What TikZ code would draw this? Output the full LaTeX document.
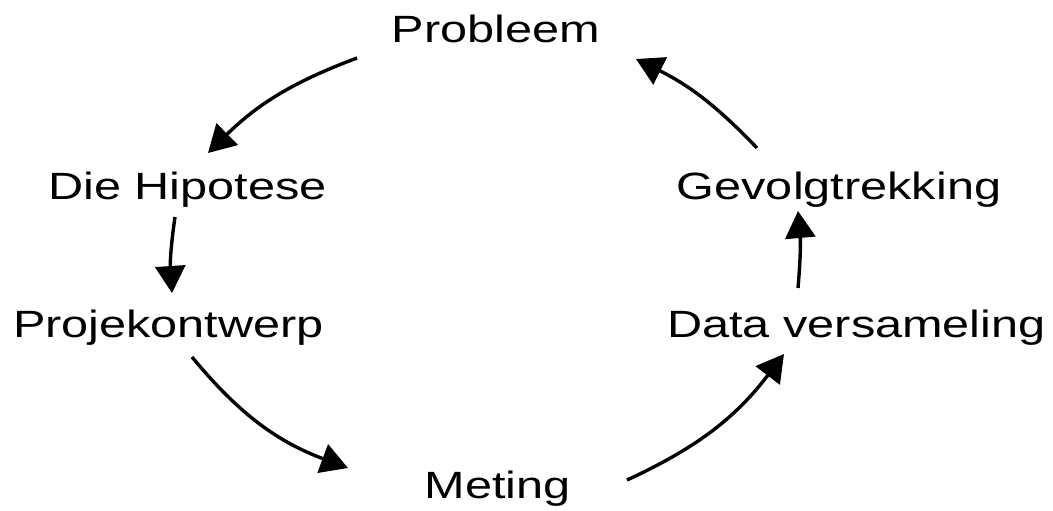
\documentclass[tikz,border=0pt]{standalone}
\usepackage{fontspec}
\setmainfont{Liberation Sans}[FakeStretch=1.28]
\usetikzlibrary{arrows.meta}
\begin{document}
\begin{tikzpicture}[x=1pt,y=-1pt,
  lbl/.style={anchor=base,inner sep=0pt,font=\fontsize{38}{45}\selectfont},
  flow/.style={line width=3.4pt,-{Triangle[length=27pt,width=30pt]}}]
\useasboundingbox (0,0) rectangle (1053,511);
\node[lbl] (prob) at (496,43) {Probleem};
\node[lbl] (hip) at (187.5,199) {Die Hipotese};
\node[lbl] (proj) at (168.5,337) {Projekontwerp};
\node[lbl] (met) at (497.5,498) {Meting};
\node[lbl] (data) at (856.5,337) {Data versameling};
\node[lbl] (gev) at (839,199) {Gevolgtrekking};
\coordinate (a1s) at (357,58);  \coordinate (a1e) at (208,153);
\coordinate (a2s) at (175,217); \coordinate (a2e) at (172,293);
\coordinate (a3s) at (192,357); \coordinate (a3e) at (348,468);
\coordinate (a4s) at (627,480); \coordinate (a4e) at (784,354);
\coordinate (a5s) at (798,288); \coordinate (a5e) at (798,211);
\coordinate (a6s) at (757,148); \coordinate (a6e) at (636,59);
\draw[flow] (a1s) to[bend right=12] (a1e);
\draw[flow] (a2s) to[bend right=6] (a2e);
\draw[flow] (a3s) to[bend right=15] (a3e);
\draw[flow] (a4s) to[bend right=14] (a4e);
\draw[flow] (a5s) to[bend right=5] (a5e);
\draw[flow] (a6s) to[bend right=10] (a6e);
\end{tikzpicture}
\end{document}
